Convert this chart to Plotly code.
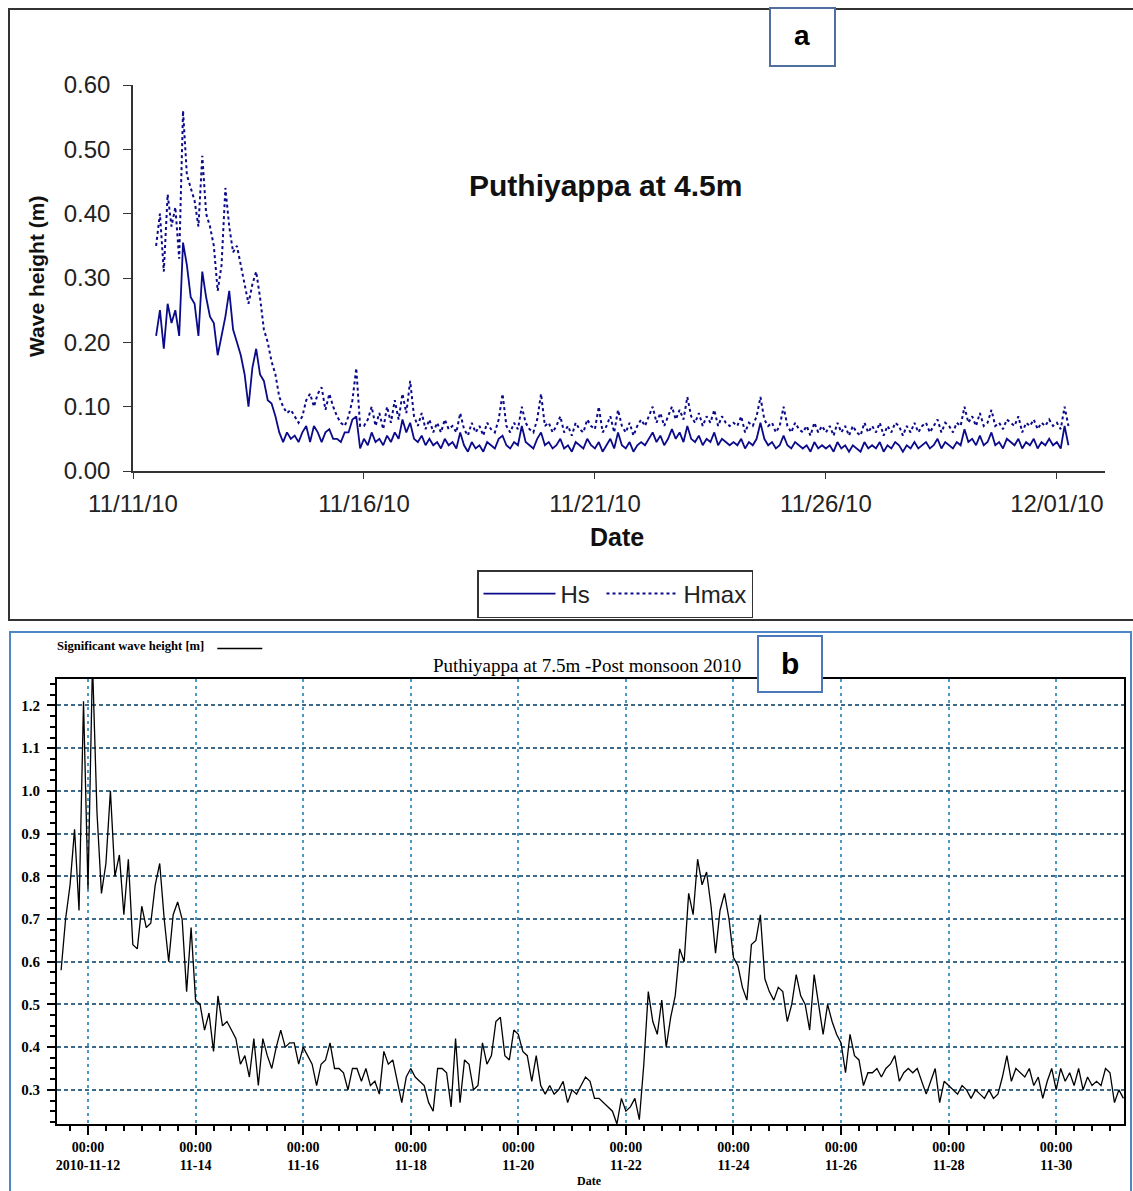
import pandas as pd
import plotly.graph_objects as go

W, H = 1133, 1191
def px(x): return x / W
def py(y): return 1 - y / H

# ---------------- data (2-hourly, 2010-11-11 12:00 -> 2010-12-01 06:00) ----------------
start = "2010-11-11 12:00"

hs_a = [
    0.21, 0.25, 0.19, 0.26, 0.23, 0.25,
    0.21, 0.355, 0.32, 0.27, 0.26, 0.21, 0.31, 0.27, 0.24, 0.23, 0.18, 0.21,
    0.24, 0.28, 0.22, 0.20, 0.18, 0.15, 0.10, 0.16, 0.19, 0.15, 0.14, 0.11,
    0.105, 0.085, 0.06, 0.045, 0.06, 0.05, 0.055, 0.045, 0.06, 0.07, 0.045, 0.07,
    0.06, 0.045, 0.06, 0.065, 0.05, 0.05, 0.045, 0.06, 0.06, 0.08, 0.085, 0.035,
    0.05, 0.04, 0.06, 0.045, 0.05, 0.04, 0.055, 0.045, 0.06, 0.05, 0.08, 0.06,
    0.075, 0.05, 0.045, 0.055, 0.04, 0.05, 0.04, 0.045, 0.035, 0.05, 0.04, 0.045,
    0.035, 0.06, 0.04, 0.03, 0.045, 0.035, 0.04, 0.03, 0.045, 0.04, 0.035, 0.05,
    0.055, 0.04, 0.035, 0.045, 0.04, 0.07, 0.045, 0.04, 0.035, 0.05, 0.06, 0.04,
    0.045, 0.035, 0.04, 0.05, 0.035, 0.04, 0.03, 0.045, 0.04, 0.035, 0.05, 0.04,
    0.035, 0.045, 0.03, 0.04, 0.05, 0.035, 0.06, 0.04, 0.035, 0.045, 0.03, 0.04,
    0.045, 0.04, 0.05, 0.06, 0.045, 0.055, 0.04, 0.05, 0.065, 0.05, 0.06, 0.045,
    0.07, 0.05, 0.045, 0.055, 0.04, 0.05, 0.045, 0.06, 0.04, 0.05, 0.045, 0.04,
    0.045, 0.04, 0.05, 0.035, 0.045, 0.04, 0.05, 0.075, 0.05, 0.04, 0.045, 0.035,
    0.04, 0.055, 0.04, 0.035, 0.045, 0.04, 0.035, 0.04, 0.03, 0.045, 0.035, 0.04,
    0.035, 0.04, 0.03, 0.045, 0.035, 0.04, 0.03, 0.04, 0.035, 0.03, 0.045, 0.035,
    0.04, 0.035, 0.045, 0.03, 0.04, 0.035, 0.045, 0.04, 0.03, 0.04, 0.035, 0.045,
    0.035, 0.04, 0.045, 0.035, 0.04, 0.05, 0.035, 0.045, 0.04, 0.035, 0.045, 0.04,
    0.065, 0.045, 0.05, 0.04, 0.055, 0.04, 0.045, 0.06, 0.04, 0.045, 0.035, 0.05,
    0.045, 0.04, 0.05, 0.035, 0.045, 0.04, 0.05, 0.035, 0.045, 0.04, 0.05, 0.04,
    0.045, 0.035, 0.07, 0.04,
]

hmax_a = [
    0.35, 0.40, 0.31, 0.43, 0.38, 0.41,
    0.33, 0.56, 0.46, 0.44, 0.42, 0.38, 0.49, 0.40, 0.38, 0.35, 0.28, 0.32,
    0.44, 0.38, 0.34, 0.35, 0.32, 0.29, 0.26, 0.29, 0.31, 0.27, 0.22, 0.20,
    0.17, 0.15, 0.115, 0.10, 0.09, 0.095, 0.085, 0.075, 0.085, 0.11, 0.12, 0.10,
    0.12, 0.13, 0.095, 0.12, 0.10, 0.085, 0.075, 0.07, 0.085, 0.11, 0.16, 0.07,
    0.07, 0.08, 0.10, 0.07, 0.09, 0.065, 0.10, 0.075, 0.11, 0.08, 0.12, 0.09,
    0.14, 0.085, 0.07, 0.09, 0.065, 0.08, 0.06, 0.075, 0.06, 0.08, 0.065, 0.07,
    0.06, 0.09, 0.065, 0.055, 0.075, 0.06, 0.07, 0.055, 0.075, 0.065, 0.06, 0.08,
    0.12, 0.07, 0.06, 0.075, 0.065, 0.10, 0.075, 0.065, 0.06, 0.08, 0.12, 0.07,
    0.075, 0.06, 0.07, 0.085, 0.06, 0.07, 0.055, 0.075, 0.065, 0.06, 0.08, 0.07,
    0.065, 0.10, 0.06, 0.07, 0.085, 0.06, 0.095, 0.07, 0.06, 0.075, 0.055, 0.07,
    0.08, 0.07, 0.085, 0.10, 0.075, 0.09, 0.07, 0.085, 0.10, 0.08, 0.095, 0.08,
    0.115, 0.085, 0.075, 0.09, 0.07, 0.085, 0.075, 0.095, 0.07, 0.085, 0.075, 0.07,
    0.075, 0.07, 0.085, 0.06, 0.075, 0.07, 0.085, 0.115, 0.08, 0.07, 0.075, 0.06,
    0.07, 0.10, 0.07, 0.06, 0.075, 0.065, 0.06, 0.07, 0.055, 0.075, 0.06, 0.07,
    0.06, 0.07, 0.055, 0.075, 0.06, 0.07, 0.055, 0.07, 0.06, 0.055, 0.075, 0.06,
    0.07, 0.06, 0.075, 0.055, 0.07, 0.06, 0.075, 0.07, 0.055, 0.07, 0.06, 0.075,
    0.06, 0.07, 0.075, 0.06, 0.07, 0.08, 0.06, 0.075, 0.07, 0.06, 0.075, 0.07,
    0.10, 0.075, 0.085, 0.07, 0.09, 0.07, 0.075, 0.095, 0.07, 0.075, 0.065, 0.08,
    0.075, 0.07, 0.085, 0.06, 0.075, 0.07, 0.08, 0.065, 0.075, 0.07, 0.08, 0.07,
    0.075, 0.065, 0.10, 0.07,
]

hs_b = [
    0.58, 0.70, 0.78, 0.91, 0.72, 1.21,
    0.77, 1.30, 0.95, 0.76, 0.83, 1.00, 0.80, 0.85, 0.71, 0.84, 0.64, 0.63,
    0.73, 0.68, 0.69, 0.78, 0.83, 0.70, 0.60, 0.71, 0.74, 0.70, 0.53, 0.68,
    0.51, 0.50, 0.44, 0.48, 0.39, 0.52, 0.45, 0.46, 0.44, 0.42, 0.36, 0.38,
    0.33, 0.42, 0.31, 0.42, 0.38, 0.35, 0.40, 0.44, 0.40, 0.41, 0.41, 0.36,
    0.40, 0.38, 0.36, 0.31, 0.36, 0.37, 0.41, 0.35, 0.35, 0.34, 0.30, 0.35,
    0.35, 0.32, 0.35, 0.31, 0.32, 0.29, 0.39, 0.36, 0.37, 0.32, 0.27, 0.33,
    0.35, 0.33, 0.32, 0.31, 0.27, 0.25, 0.35, 0.35, 0.34, 0.26, 0.42, 0.27,
    0.37, 0.36, 0.30, 0.31, 0.41, 0.36, 0.38, 0.46, 0.47, 0.38, 0.37, 0.44,
    0.43, 0.39, 0.38, 0.32, 0.38, 0.31, 0.29, 0.31, 0.29, 0.30, 0.32, 0.27,
    0.30, 0.29, 0.31, 0.33, 0.32, 0.28, 0.28, 0.27, 0.26, 0.25, 0.22, 0.28,
    0.25, 0.26, 0.28, 0.23, 0.36, 0.53, 0.46, 0.43, 0.51, 0.40, 0.47, 0.52,
    0.63, 0.60, 0.76, 0.71, 0.84, 0.78, 0.81, 0.73, 0.62, 0.72, 0.76, 0.70,
    0.61, 0.59, 0.54, 0.51, 0.64, 0.65, 0.71, 0.56, 0.53, 0.51, 0.54, 0.53,
    0.46, 0.50, 0.57, 0.52, 0.50, 0.44, 0.57, 0.50, 0.43, 0.50, 0.46, 0.43,
    0.41, 0.34, 0.43, 0.38, 0.37, 0.31, 0.34, 0.34, 0.35, 0.33, 0.35, 0.36,
    0.38, 0.32, 0.34, 0.35, 0.34, 0.35, 0.32, 0.29, 0.32, 0.35, 0.27, 0.32,
    0.31, 0.30, 0.29, 0.31, 0.30, 0.28, 0.30, 0.29, 0.28, 0.30, 0.28, 0.29,
    0.33, 0.38, 0.32, 0.35, 0.34, 0.33, 0.35, 0.31, 0.33, 0.28, 0.32, 0.35,
    0.30, 0.35, 0.32, 0.34, 0.31, 0.35, 0.30, 0.33, 0.31, 0.32, 0.31, 0.35,
    0.34, 0.27, 0.30, 0.28,
]

t_a = pd.date_range(start, periods=len(hs_a), freq="2h")
t_amax = pd.date_range(start, periods=len(hmax_a), freq="2h")
t_b = pd.date_range(start, periods=len(hs_b), freq="2h")

b_tick_dates = ["2010-11-12", "2010-11-14", "2010-11-16", "2010-11-18", "2010-11-20",
                "2010-11-22", "2010-11-24", "2010-11-26", "2010-11-28", "2010-11-30"]
b_tick_text = ["00:00<br>2010-11-12", "00:00<br>11-14", "00:00<br>11-16", "00:00<br>11-18",
               "00:00<br>11-20", "00:00<br>11-22", "00:00<br>11-24", "00:00<br>11-26",
               "00:00<br>11-28", "00:00<br>11-30"]

SANS = "Liberation Sans, Arial, sans-serif"
SERIF = "Liberation Serif, Times New Roman, serif"
NAVY = "#0a0a8a"

fig = go.Figure()

fig.add_trace(go.Scatter(x=t_a, y=hs_a, name="Hs ", mode="lines",
                         line=dict(color=NAVY, width=1.8), xaxis="x", yaxis="y",
                         legend="legend"))
fig.add_trace(go.Scatter(x=t_amax, y=hmax_a, name="Hmax", mode="lines",
                         line=dict(color=NAVY, width=2, dash="dot"), xaxis="x", yaxis="y",
                         legend="legend"))
fig.add_trace(go.Scatter(x=t_b, y=hs_b, name=" ", mode="lines",
                         line=dict(color="black", width=1.3), xaxis="x2", yaxis="y2",
                         legend="legend2"))

fig.update_layout(
    width=W, height=H, margin=dict(l=0, r=0, t=0, b=0, autoexpand=False),
    paper_bgcolor="white", plot_bgcolor="white", showlegend=True,
    xaxis=dict(domain=[px(133), px(1105)], anchor="y", automargin=False,
               range=["2010-11-11 00:00", "2010-12-02 01:00"],
               tickmode="linear", tick0="2010-11-11", dtick=5 * 86400000,
               tickformat="%m/%d/%y", ticks="outside", ticklen=6, tickcolor="#333",
               showline=True, linecolor="#333", linewidth=1.5, showgrid=False, zeroline=False,
               ticklabelstandoff=4,
               tickfont=dict(family=SANS, size=24, color="#222")),
    yaxis=dict(domain=[py(471), py(85)], anchor="x", range=[0, 0.6], automargin=False,
               tickmode="linear", tick0=0, dtick=0.1, tickformat=".2f",
               ticks="outside", ticklen=8, tickcolor="#333",
               showline=True, linecolor="#333", linewidth=1.5, showgrid=False, zeroline=False,
               ticklabelstandoff=8,
               tickfont=dict(family=SANS, size=24, color="#222")),
    xaxis2=dict(domain=[px(57), px(1124)], anchor="y2", automargin=False,
                range=["2010-11-11 10:10", "2010-12-01 06:15"],
                tickmode="array", tickvals=b_tick_dates, ticktext=b_tick_text,
                ticks="outside", ticklen=9, tickcolor="black", tickwidth=1.5,
                minor=dict(tickmode="linear", tick0="2010-11-12", dtick=8 * 3600000,
                           ticks="outside", ticklen=5, tickcolor="black", tickwidth=1.5,
                           showgrid=False),
                showline=True, mirror=True, linecolor="black", linewidth=2,
                showgrid=True, gridcolor="#4a9ac6", gridwidth=1.5, griddash="3px,4px",
                zeroline=False, ticklabelstandoff=0,
                tickfont=dict(family=SERIF, size=14, color="black", weight="bold")),
    yaxis2=dict(domain=[py(1124), py(679)], anchor="x2", range=[0.22, 1.262], automargin=False,
                tickmode="linear", tick0=0, dtick=0.1, tickformat=".1f",
                ticks="outside", ticklen=8, tickcolor="black", tickwidth=1.5,
                minor=dict(tickmode="linear", tick0=0, dtick=0.025, ticks="outside",
                           ticklen=5, tickcolor="black", tickwidth=1.5, showgrid=False),
                showline=True, mirror=True, linecolor="black", linewidth=2,
                showgrid=True, gridcolor="#3d6a8a", gridwidth=1.5, griddash="4px,3px",
                zeroline=False, ticklabelstandoff=4,
                tickfont=dict(family=SERIF, size=15, color="black", weight="bold")),
    legend=dict(orientation="h", x=px(477), y=py(570), xanchor="left", yanchor="top",
                bgcolor="white", bordercolor="#333", borderwidth=1.5, itemwidth=72,
                font=dict(family=SANS, size=24, color="#222"), tracegroupgap=0),
    legend2=dict(orientation="h", x=px(55), y=py(634), xanchor="left", yanchor="top",
                 bgcolor="rgba(0,0,0,0)", borderwidth=0, itemwidth=45,
                 title=dict(text="Significant wave height [m]", side="left",
                            font=dict(family=SERIF, size=12.6, color="black", weight="bold")),
                 font=dict(family=SERIF, size=12, color="black")),
)

shapes = [
    # panel a frame
    dict(type="rect", xref="paper", yref="paper", x0=px(9), x1=1.01, y0=py(620), y1=py(9),
         line=dict(color="#333", width=2), fillcolor="rgba(0,0,0,0)", layer="below"),
    # panel b frame
    dict(type="rect", xref="paper", yref="paper", x0=px(10), x1=px(1131), y0=-0.01, y1=py(632),
         line=dict(color="#4f86c6", width=2), fillcolor="rgba(0,0,0,0)", layer="below"),
    # label boxes
    dict(type="rect", xref="paper", yref="paper", x0=px(770), x1=px(835), y0=py(66), y1=py(8),
         line=dict(color="#4f6f9f", width=2), fillcolor="white", layer="above"),
    dict(type="rect", xref="paper", yref="paper", x0=px(758), x1=px(822), y0=py(692), y1=py(636),
         line=dict(color="#4a78b8", width=2), fillcolor="white", layer="above"),
]
fig.update_layout(shapes=shapes)

ann = [
    dict(text="<b>a</b>", x=px(802), y=py(36), font=dict(family=SANS, size=28, color="black")),
    dict(text="<b>b</b>", x=px(790), y=py(663), font=dict(family=SANS, size=30, color="black")),
    dict(text="<b>Puthiyappa at 4.5m</b>", x=px(605), y=py(185),
         font=dict(family=SANS, size=30, color="#111")),
    dict(text="<b>Date</b>", x=px(617), y=py(537), font=dict(family=SANS, size=25, color="#111")),
    dict(text="<b>Wave height (m)</b>", x=px(36), y=py(277), textangle=-90,
         font=dict(family=SANS, size=21, color="#111")),
    dict(text="Puthiyappa at 7.5m -Post monsoon 2010", x=px(587), y=py(665),
         font=dict(family=SERIF, size=19, color="black")),
    dict(text="<b>Date</b>", x=px(589), y=py(1181), font=dict(family=SERIF, size=12, color="black")),
]
for a in ann:
    a.update(xref="paper", yref="paper", showarrow=False, xanchor="center", yanchor="middle")
fig.update_layout(annotations=ann)

fig.write_html("out.html")
